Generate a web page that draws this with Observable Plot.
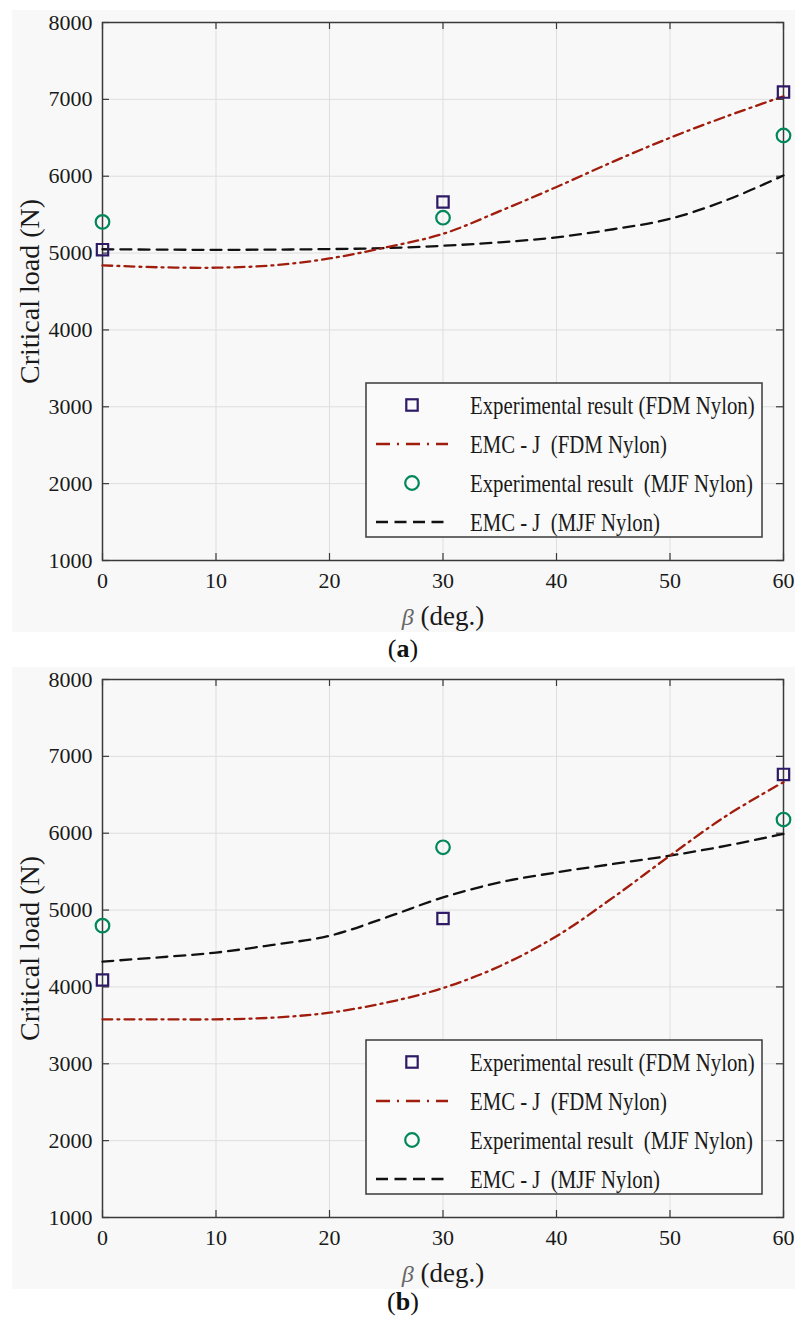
<!DOCTYPE html>
<html><head><meta charset="utf-8">
<script src="https://cdn.jsdelivr.net/npm/d3@7"></script>
<script src="https://cdn.jsdelivr.net/npm/@observablehq/plot@0.6"></script>
<style>
body{margin:0;background:#fff;width:795px;height:1322px;position:relative;overflow:hidden;font-family:"Liberation Serif","Times New Roman",serif;}
.panel{position:absolute;left:12px;width:783px;height:622px;background:#f8f8f8;}
.cap{position:absolute;left:0;width:806px;text-align:center;font-size:26px;color:#111;line-height:30px;}
</style></head><body>
<div id="pa" class="panel" style="top:10px"></div>
<div class="cap" style="top:634px">(<b>a</b>)</div>
<div id="pb" class="panel" style="top:667px"></div>
<div class="cap" style="top:1287px">(<b>b</b>)</div>
<script>
// ---- data ----
const betaCurve = [0, 5, 10, 15, 20, 25, 30, 35, 40, 45, 50, 55, 60];
const emcFdmA = [4840, 4815, 4810, 4840, 4930, 5075, 5250, 5545, 5860, 6190, 6500, 6780, 7040];
const emcMjfA = [5050, 5045, 5042, 5045, 5052, 5065, 5095, 5140, 5205, 5310, 5445, 5690, 6010];
const emcFdmB = [3578, 3578, 3578, 3600, 3665, 3795, 3985, 4270, 4660, 5165, 5708, 6230, 6665];
const emcMjfB = [4330, 4385, 4447, 4547, 4665, 4904, 5165, 5360, 5490, 5600, 5708, 5838, 5991];
const betaExp = [0, 30, 60];
const expFdmA = [5044, 5665, 7095];
const expMjfA = [5405, 5460, 6530];
const expFdmB = [4090, 4890, 6765];
const expMjfB = [4797, 5817, 6178];
const xTicks = [0, 10, 20, 30, 40, 50, 60];
const yTicks = [1000, 2000, 3000, 4000, 5000, 6000, 7000, 8000];
const legendLabels = ["Experimental result (FDM Nylon)", "EMC - J  (FDM Nylon)", "Experimental result  (MJF Nylon)", "EMC - J  (MJF Nylon)"];
const yLabel = "Critical load (N)";
const xLabel = "β (deg.)";

const C = {sq: "#2e1a66", circ: "#00875a", red: "#a01c0c", black: "#111111", grid: "#dedede", axis: "#3a3a3a"};
const redDash = "10,5,2,5", blackDash = "11,7";

function makePanel(el, fdm, mjf, eFdm, eMjf) {
  const W = 783, H = 622, mL = 90, mR = 12, mT = 12, mB = 72;
  const iW = W - mL - mR, iH = H - mT - mB;
  const toRows = (xs, ys) => xs.map((x, i) => ({beta: x, v: ys[i]}));
  const svg = Plot.plot({
    width: W, height: H, marginLeft: mL, marginRight: mR, marginTop: mT, marginBottom: mB,
    style: {background: "transparent", fontFamily: "'Liberation Serif','Times New Roman',serif", color: "#1a1a1a", overflow: "visible"},
    x: {domain: [0, 60]},
    y: {domain: [1000, 8000]},
    marks: [
      Plot.gridX({ticks: xTicks, stroke: C.grid, strokeOpacity: 1, strokeWidth: 1}),
      Plot.gridY({ticks: yTicks, stroke: C.grid, strokeOpacity: 1, strokeWidth: 1}),
      Plot.tickY(yTicks, {y: d => d, insetRight: iW - 7, stroke: C.axis, strokeWidth: 1.2}),
      Plot.tickY(yTicks, {y: d => d, insetLeft: iW - 7, stroke: C.axis, strokeWidth: 1.2}),
      Plot.tickX(xTicks, {x: d => d, insetTop: iH - 7, stroke: C.axis, strokeWidth: 1.2}),
      Plot.tickX(xTicks, {x: d => d, insetBottom: iH - 7, stroke: C.axis, strokeWidth: 1.2}),
      Plot.frame({stroke: C.axis, strokeWidth: 1.5}),
      Plot.axisY({ticks: yTicks, tickSize: 0, tickPadding: 10, fontSize: 22, label: null, tickFormat: d => String(d)}),
      Plot.axisX({ticks: xTicks, tickSize: 0, tickPadding: 12, fontSize: 22, label: null, tickFormat: d => String(d)}),
      Plot.line(toRows(betaCurve, mjf), {x: "beta", y: "v", curve: "catmull-rom", stroke: C.black, strokeWidth: 2.3, strokeDasharray: blackDash}),
      Plot.line(toRows(betaCurve, fdm), {x: "beta", y: "v", curve: "catmull-rom", stroke: C.red, strokeWidth: 2.3, strokeDasharray: redDash}),
      Plot.dot(toRows(betaExp, eMjf), {x: "beta", y: "v", r: 6.8, stroke: C.circ, strokeWidth: 2.2, fill: "none"}),
      Plot.dot(toRows(betaExp, eFdm), {x: "beta", y: "v", symbol: "square", r: 6.4, stroke: C.sq, strokeWidth: 2.2, fill: "none"}),
      Plot.text([yLabel], {text: d => d, frameAnchor: "left", dx: -72, rotate: -90, fontSize: 28, textAnchor: "middle", lineAnchor: "middle", fill: "#1a1a1a"}),
      Plot.text([xLabel], {text: d => d, frameAnchor: "bottom", dy: 56, fontSize: 27, textAnchor: "middle", lineAnchor: "middle", fill: "#1a1a1a"})
    ]
  });
  // italic beta in x label
  d3.select(svg).selectAll("text").filter(function () { return this.textContent === xLabel; })
    .each(function () {
      const t = d3.select(this);
      t.text(null);
      t.append("tspan").attr("font-style", "italic").attr("fill", "#666").attr("font-size", 24).text("β");
      t.append("tspan").text(" (deg.)");
    });
  // legend
  const g = d3.select(svg).append("g").attr("class", "legend").attr("text-anchor", "start");
  g.append("rect").attr("x", 354).attr("y", 373).attr("width", 396).attr("height", 154)
    .attr("fill", "#fafafa").attr("stroke", C.axis).attr("stroke-width", 1.5);
  const rowsY = [395, 434, 473, 512];
  g.append("rect").attr("x", 400 - 5.7).attr("y", rowsY[0] - 5.7).attr("width", 11.4).attr("height", 11.4)
    .attr("fill", "none").attr("stroke", C.sq).attr("stroke-width", 2.2);
  g.append("line").attr("x1", 364).attr("x2", 436).attr("y1", rowsY[1]).attr("y2", rowsY[1])
    .attr("stroke", C.red).attr("stroke-width", 2.3).attr("stroke-dasharray", "14,7,2,7");
  g.append("circle").attr("cx", 400).attr("cy", rowsY[2]).attr("r", 6.8)
    .attr("fill", "none").attr("stroke", C.circ).attr("stroke-width", 2.2);
  g.append("line").attr("x1", 364).attr("x2", 436).attr("y1", rowsY[3]).attr("y2", rowsY[3])
    .attr("stroke", C.black).attr("stroke-width", 2.3).attr("stroke-dasharray", "12,6.5");
  legendLabels.forEach((lab, i) => {
    g.append("text").attr("transform", `translate(458,${rowsY[i]}) scale(0.8,1)`)
      .attr("text-anchor", "start")
      .attr("dy", "0.35em").attr("font-size", 26).attr("fill", "#1a1a1a")
      .style("white-space", "pre").text(lab);
  });
  el.appendChild(svg);
}
makePanel(document.getElementById("pa"), emcFdmA, emcMjfA, expFdmA, expMjfA);
makePanel(document.getElementById("pb"), emcFdmB, emcMjfB, expFdmB, expMjfB);
</script>
</body></html>
